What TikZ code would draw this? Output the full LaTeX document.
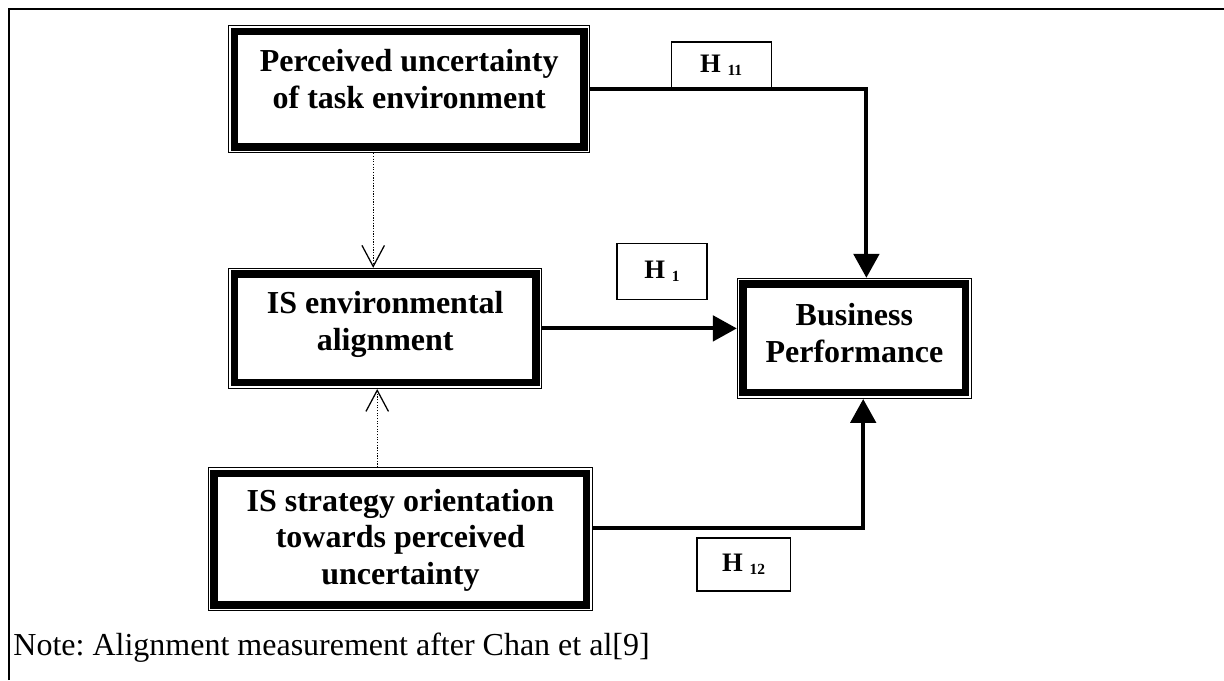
\documentclass[tikz,border=0pt]{standalone}
\usepackage{fontspec}
\setmainfont{Liberation Serif}
\usepackage{tikz}
\usetikzlibrary{arrows.meta}
\usetikzlibrary{calc}
\frenchspacing

\newcommand{\hlabel}[1]{H \raisebox{-2pt}{\fontsize{11}{11}\selectfont #1}}

\begin{document}
\begin{tikzpicture}[factor/.style={draw, line width=5pt, fill=white, align=center, inner sep=0pt, outer sep=0.155cm, font=\fontsize{22.76}{26}\selectfont\bfseries, append after command={\pgfextra{\draw[line width=0.85pt] ($(\tikzlastnode.north west)+(0.015,-0.015)$) rectangle ($(\tikzlastnode.south east)+(-0.015,0.015)$);}}},    hyp/.style={draw, line width=1pt, fill=white, inner sep=0pt, font=\fontsize{18.97}{20}\selectfont\bfseries},    flow/.style={-{Triangle[length=17pt,width=18pt]}, line width=2.8pt},    link/.style={-{Straight Barb[length=15pt,width=16pt]}, line width=0.9pt, densely dotted}]
		\useasboundingbox (0,0) rectangle (30.6,-17);
		% draw the frame
		\draw[line width=2pt] (0.225,-17) -- (0.225,-0.225) -- (30.6,-0.225);
		% add the constructs
		\node[factor, minimum width=8.74cm, minimum height=2.89cm, text depth=0.51cm] (task) at (10.23,-2.23) {Perceived uncertainty\\of task environment};
		\node[factor, minimum width=7.54cm, minimum height=2.72cm, text depth=0.385cm] (align) at (9.63,-8.21) {IS environmental\\alignment};
		\node[factor, minimum width=9.32cm, minimum height=3.29cm, text depth=0.125cm] (orient) at (10.01,-13.48) {IS strategy orientation\\towards perceived\\uncertainty};
		\node[factor, minimum width=5.57cm, minimum height=2.72cm, text depth=0.285cm] (perf) at (21.36,-8.46) {Business\\Performance};
		% draw the hypothesis paths
		\draw[flow] (task.east) -| ([xshift=0.3cm]perf.north);
		\draw[flow] (align.east) -- (align.east -| perf.west);
		\draw[flow] ([yshift=0.28cm]orient.east) -| ([xshift=0.22cm]perf.south);
		% draw the alignment inputs
		\draw[link] ([xshift=-0.3cm]align.north |- task.south) -- ([xshift=-0.3cm]align.north);
		\draw[link] ([xshift=-0.2cm]align.south |- orient.north) -- ([xshift=-0.2cm]align.south);
		% add the hypothesis labels
		\node[hyp, minimum width=2.5cm, minimum height=1.15cm] (h11) at (18.03,-1.63) {\hlabel{11}};
		\node[hyp, minimum width=2.25cm, minimum height=1.4cm] (h1) at (16.55,-6.78) {\hlabel{1}};
		\node[hyp, minimum width=2.33cm, minimum height=1.33cm] (h12) at (18.59,-14.11) {\hlabel{12}};
		% add the note
		\node[anchor=base west, inner sep=0pt, font=\fontsize{22.76}{26}\selectfont] (note) at (0.33,-16.375) {Note: Alignment measurement after Chan et al[9]};
	\end{tikzpicture}
\end{document}
